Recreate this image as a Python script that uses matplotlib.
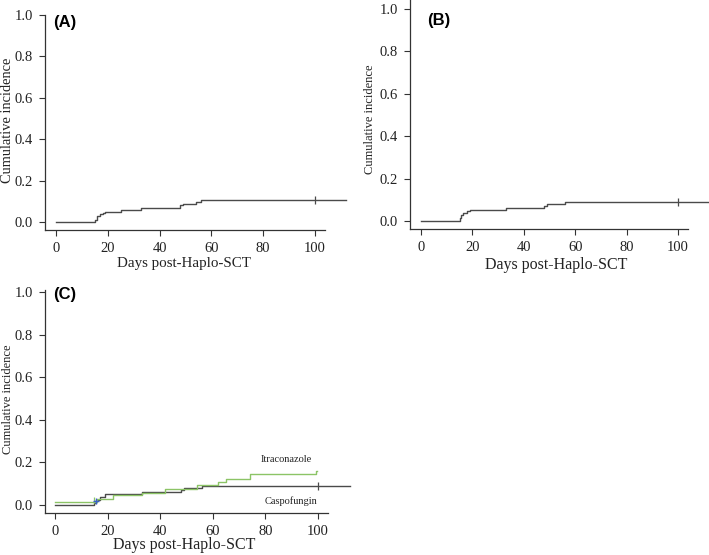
import matplotlib
matplotlib.use("Agg")
import matplotlib.pyplot as plt

# ---------------- data ----------------
times_A = [0, 15, 16, 17, 18, 19, 25, 33, 48, 49, 54, 56]
cif_A = [0.0, 0.01, 0.03, 0.04, 0.045, 0.05, 0.06, 0.067, 0.08, 0.088, 0.097, 0.107]

times_B = [0, 15, 15.6, 16.5, 18, 19, 33, 48, 49, 56]
cif_B = [0.0, 0.015, 0.03, 0.04, 0.045, 0.05, 0.06, 0.07, 0.08, 0.09]

times_casp = [0, 15, 15.6, 17, 19, 33, 48, 49, 56]
cif_casp = [0.0, 0.01, 0.023, 0.039, 0.05, 0.06, 0.07, 0.08, 0.089]

times_itra = [0, 15.8, 22, 33, 42, 54, 62, 65, 74, 99.2]
cif_itra = [0.014, 0.028, 0.047, 0.058, 0.075, 0.093, 0.109, 0.122, 0.144, 0.159]
end_itra = 99.8

end_day = 112
censor_day = 100
xticks = [0, 20, 40, 60, 80, 100]
yticks = [0.0, 0.2, 0.4, 0.6, 0.8, 1.0]
panel_labels = ["(A)", "(B)", "(C)"]
group_labels = ["Itraconazole", "Caspofungin"]

# ---------------- style ----------------
serif = "Liberation Serif"
plt.rcParams["font.family"] = [serif, "DejaVu Serif"]
W, H = 709, 555
fig = plt.figure(figsize=(W / 100, H / 100), dpi=100)
dark = "#4a4a4a"
green = "#8cc466"
blue = "#3a5fc8"
txt = "#222222"


def px_axes(left, right, top, bottom):
    return [left / W, 1 - bottom / H, (right - left) / W, (bottom - top) / H]


def style(ax, xlim, ylim, tick_fs):
    ax.set_xlim(*xlim)
    ax.set_ylim(*ylim)
    for s in ["top", "right"]:
        ax.spines[s].set_visible(False)
    for s in ["left", "bottom"]:
        ax.spines[s].set_color("#333333")
        ax.spines[s].set_linewidth(0.9)
    ax.set_xticks(xticks)
    ax.set_yticks(yticks)
    ax.set_yticklabels([f"{v:.1f}" for v in yticks])
    ax.tick_params(direction="out", length=4.5, width=0.8, color="#333333",
                   labelsize=tick_fs, labelcolor=txt, pad=4)


def step_curve(ax, t, v, end, color, lw=1.0):
    xs = list(t) + [end]
    ys = list(v) + [v[-1]]
    ax.step(xs, ys, where="post", color=color, lw=lw, clip_on=False, zorder=3)


# Panel A
axA = fig.add_axes(px_axes(45, 325, 15, 230))
style(axA, (-4.25, 103.9), (-0.039, 1.0), 10.5)
step_curve(axA, times_A, cif_A, end_day, dark)
axA.plot([censor_day], [cif_A[-1]], marker="|", ms=6, color=dark, mew=0.9, clip_on=False)
fig.text(184 / W, 1 - 264 / H, "Days post-Haplo-SCT", fontsize=10.8,
         ha="center", va="center", color=txt)
fig.text(8 / W, 1 - 120 / H, "Cumulative incidence", fontsize=10.4,
         rotation=90, ha="center", va="center", color=txt)
fig.text(53 / W, 1 - 22 / H, panel_labels[0], family="Liberation Sans", weight="bold",
         fontsize=12, ha="left", va="center")

# Panel B
axB = fig.add_axes(px_axes(410, 688, 0, 229))
style(axB, (-4.28, 103.9), (-0.0377, 1.042), 10.5)
step_curve(axB, times_B, cif_B, 126, dark)
axB.plot([censor_day], [cif_B[-1]], marker="|", ms=6, color=dark, mew=0.9, clip_on=False)
fig.text(556 / W, 1 - 265 / H, "Days post-Haplo-SCT", fontsize=11.5,
         ha="center", va="center", color=txt)
fig.text(370 / W, 1 - 119 / H, "Cumulative incidence", fontsize=9,
         rotation=90, ha="center", va="center", color=txt)
fig.text(427 / W, 1 - 20 / H, panel_labels[1], family="Liberation Sans", weight="bold",
         fontsize=12, ha="left", va="center")

# Panel C
axC = fig.add_axes(px_axes(45, 328, 290, 513))
style(axC, (-3.8, 103.8), (-0.0376, 1.01), 10.5)
step_curve(axC, times_casp, cif_casp, end_day, dark)
step_curve(axC, times_itra, cif_itra, end_itra, green)
axC.plot([censor_day], [cif_casp[-1]], marker="|", ms=6, color=dark, mew=0.9, clip_on=False)
axC.plot([15], [0.022], marker="|", ms=5, color=green, mew=0.9, zorder=4)
axC.plot([15.5], [0.018], marker="+", ms=5, color=blue, mew=1.0, zorder=5)
axC.text(88, 0.215, group_labels[0], fontsize=7.5, ha="center", va="center", color=txt)
axC.text(89.8, 0.018, group_labels[1], fontsize=7.5, ha="center", va="center", color=txt)
fig.text(184 / W, 1 - 545 / H, "Days post-Haplo-SCT", fontsize=11.5,
         ha="center", va="center", color=txt)
fig.text(8 / W, 1 - 399 / H, "Cumulative incidence", fontsize=9,
         rotation=90, ha="center", va="center", color=txt)
fig.text(53 / W, 1 - 295 / H, panel_labels[2], family="Liberation Sans", weight="bold",
         fontsize=12, ha="left", va="center")

fig.savefig("out.png", dpi=100)
